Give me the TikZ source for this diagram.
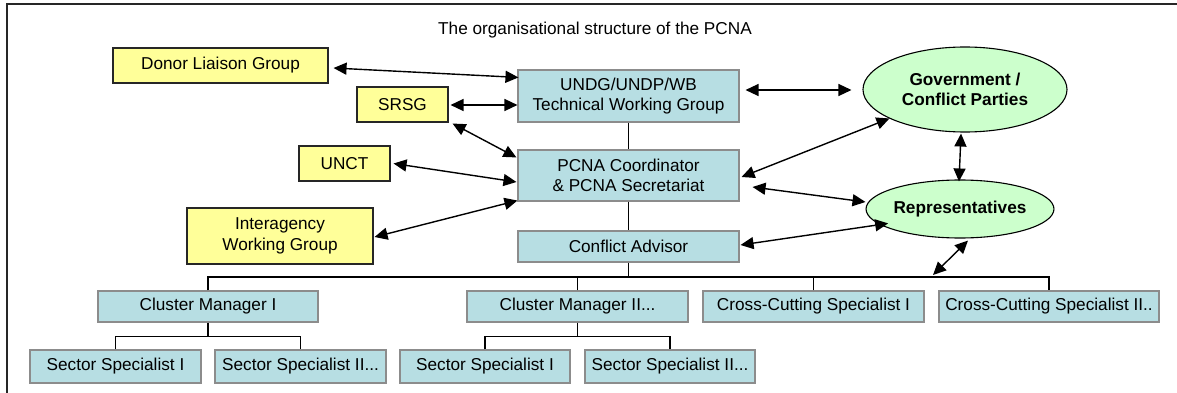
\documentclass[tikz,border=0pt]{standalone}
\usepackage{fontspec}
\setmainfont{Liberation Sans}
\usetikzlibrary{arrows.meta,shapes.geometric,calc}
\definecolor{boxblue}{HTML}{B7DEE3}
\definecolor{boxyellow}{HTML}{FFFF99}
\definecolor{boxgreen}{HTML}{CCFFCC}
\definecolor{boxgray}{HTML}{8C8C8C}
\begin{document}
\begin{tikzpicture}[x=1pt,y=-1pt,
  base/.style={inner sep=0pt, align=center, font=\fontsize{17.2}{20.5}\selectfont},
  ybox/.style={base, draw=black!85, fill=boxyellow, line width=1.1pt},
  bbox/.style={base, draw=boxgray, fill=boxblue, line width=1.1pt},
  gell/.style={base, ellipse, draw=black, fill=boxgreen, line width=1.1pt, font=\fontsize{17.2}{20.5}\selectfont\bfseries},
  link/.style={line width=1.4pt, {Triangle[length=13pt,width=12pt]}-{Triangle[length=13pt,width=12pt]}},
  tree/.style={line width=1.5pt}]
\useasboundingbox (0,0) rectangle (1177,393);
\draw[line width=2pt, black!85] (7,393) -- (7,4) -- (1177,4);
\node[base, anchor=base] (title) at (595,35) {The organisational structure of the PCNA};

\node[ybox, minimum width=215, minimum height=35] (dlg) at (220.5,65.5) {Donor Liaison Group};
\node[ybox, minimum width=91, minimum height=35] (srsg) at (402.5,104.5) {SRSG};
\node[ybox, minimum width=91, minimum height=35] (unct) at (344.5,163.5) {UNCT};
\node[ybox, minimum width=186, minimum height=56] (iwg) at (280,236) {Interagency\\Working Group};

\node[bbox, minimum width=221, minimum height=52] (undg) at (628.5,96) {UNDG/UNDP/WB\\Technical Working Group};
\node[bbox, minimum width=221, minimum height=51] (pcna) at (628.5,175.5) {PCNA Coordinator\\\& PCNA Secretariat};
\node[bbox, minimum width=221, minimum height=31] (ca) at (628.5,246.5) {Conflict Advisor};
\node[bbox, minimum width=220, minimum height=31] (cm1) at (208,306.5) {Cluster Manager I};
\node[bbox, minimum width=221, minimum height=31] (cm2) at (577.5,306.5) {Cluster Manager II...};
\node[bbox, minimum width=221, minimum height=31] (ccs1) at (813.5,306.5) {Cross-Cutting Specialist I};
\node[bbox, minimum width=220, minimum height=31] (ccs2) at (1049,306.5) {Cross-Cutting Specialist II..};
\node[bbox, minimum width=171, minimum height=33] (ss1a) at (115.5,366.5) {Sector Specialist I};
\node[bbox, minimum width=171, minimum height=33] (ss2a) at (300.5,366.5) {Sector Specialist II...};
\node[bbox, minimum width=170, minimum height=33] (ss1b) at (485,366.5) {Sector Specialist I};
\node[bbox, minimum width=170, minimum height=33] (ss2b) at (670,366.5) {Sector Specialist II...};

\node[gell, minimum width=204, minimum height=85] (gov) at (965,89.5) {Government /\\Conflict Parties};
\node[gell, minimum width=170, minimum height=58] (rep) at (960,209) {Representatives};

% tree
\coordinate (bus) at (628.5,277);
\draw[tree] (undg.south) -- (pcna.north);
\draw[tree] (pcna.south) -- (ca.north);
\draw[tree] (ca.south) -- (bus);
\draw[tree] (cm1.north) |- (bus) -| (ccs2.north);
\draw[tree] (cm2.north) -- (cm2.north |- bus);
\draw[tree] (ccs1.north) -- (ccs1.north |- bus);
\coordinate (subA) at ($(cm1.south)+(0,14)$);
\coordinate (subB) at ($(cm2.south)+(0,14)$);
\draw[tree] (cm1.south) -- (subA);
\draw[tree] (ss1a.north) |- (subA) -| (ss2a.north);
\draw[tree] (cm2.south) -- (subB);
\draw[tree] (ss1b.north) |- (subB) -| (ss2b.north);

% links
\draw[link] ($(dlg.east)+(5,2.5)$) -- ($(undg.north west)+(1,8)$);
\draw[link] ($(srsg.east)+(2,0.5)$) -- ($(undg.west)+(0,9)$);
\draw[link] ($(srsg.south east)+(4,1)$) -- ($(pcna.north west)+(-1,8)$);
\draw[link] ($(unct.east)+(3,0)$) -- ($(pcna.west)+(-1,6.5)$);
\draw[link] ($(iwg.east)+(1,1)$) -- ($(pcna.south west)+(0,-1)$);
\draw[link] ($(undg.east)+(6,-6)$) -- ($(gov.west)+(-11,0.5)$);
\draw[link] ($(pcna.east)+(2,1.5)$) -- ($(gov.south west)+(-3,-1.5)$);
\draw[link] ($(pcna.east)+(13,11.5)$) -- ($(rep.west)+(0,-7)$);
\draw[link] ($(ca.east)+(1,-1.5)$) -- ($(rep.south west)+(-5,-6.5)$);
\draw[link] ($(gov.south)+(-4,1)$) -- ($(rep.north)+(-1,2)$);
\draw[link] ($(rep.south)+(8,2)$) -- ($(ccs2.north |- bus)+(-116,-2)$);
\end{tikzpicture}
\end{document}
